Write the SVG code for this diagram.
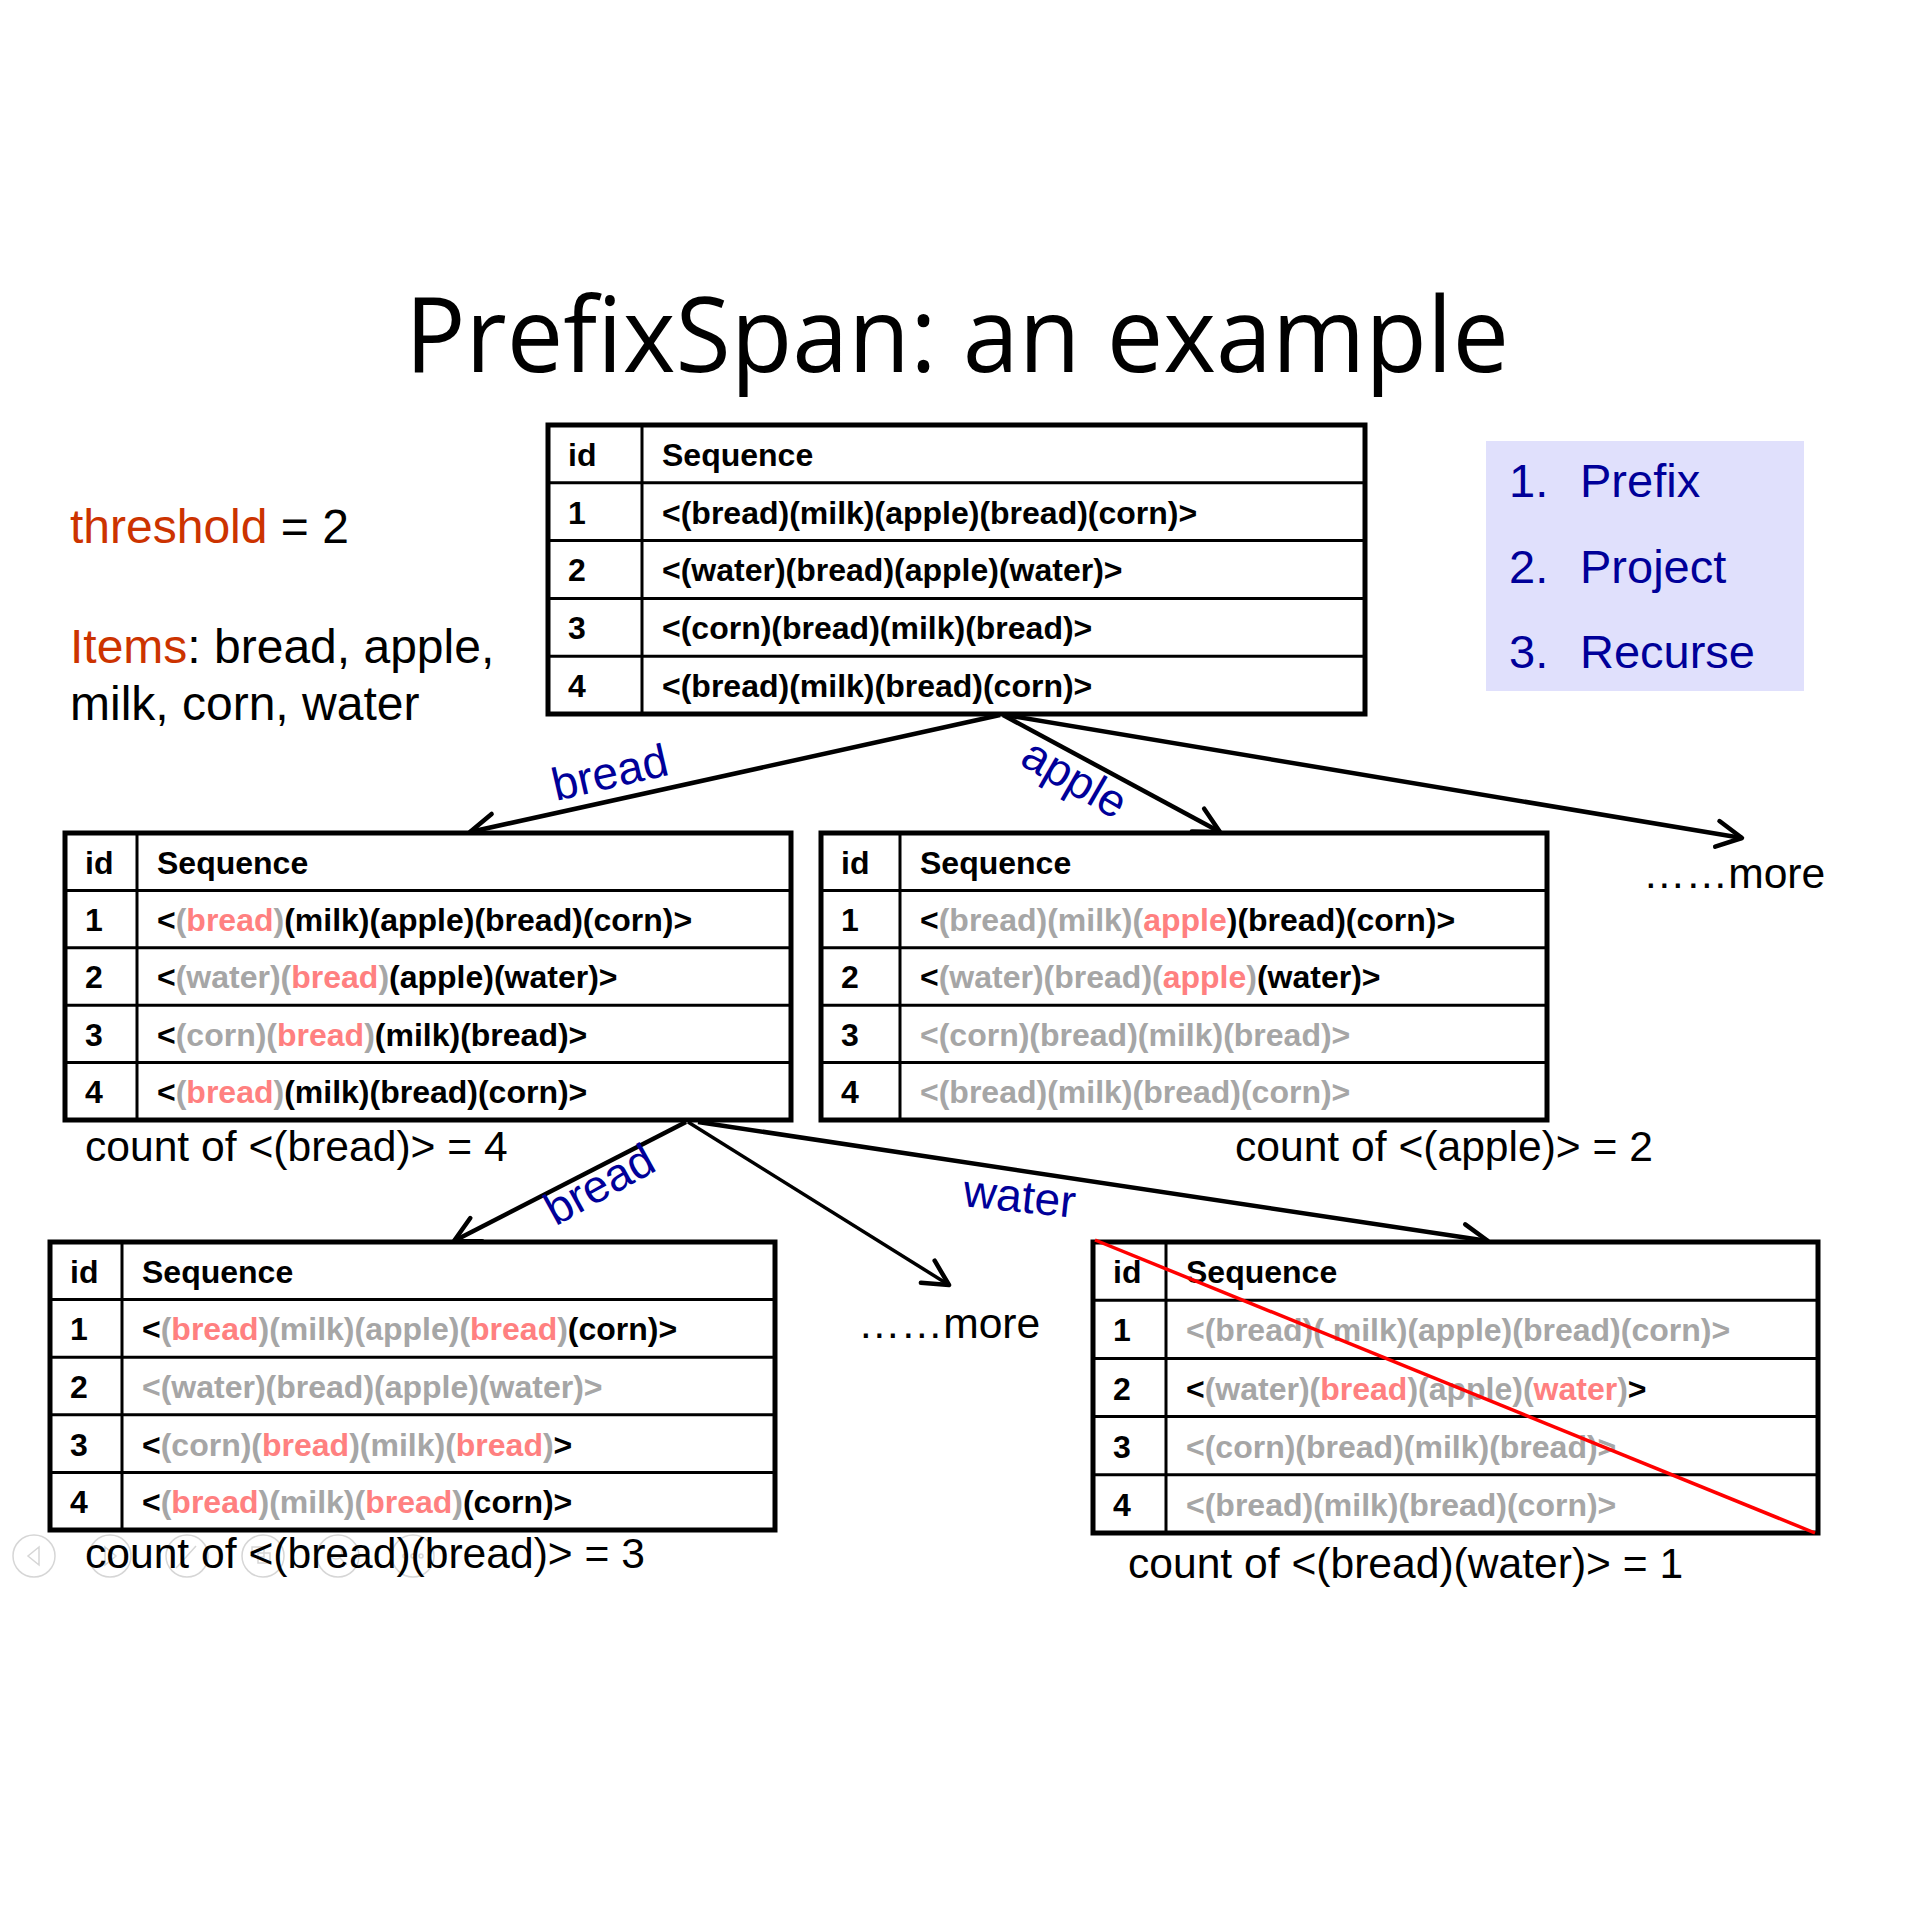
<svg xmlns="http://www.w3.org/2000/svg" width="1913" height="1913" viewBox="0 0 1913 1913">
  <defs>
    <style>
      .frame { fill: #fff; stroke: none; }
      .outer { fill: none; stroke: #000; stroke-width: 5; }
      .grid { stroke: #000; stroke-width: 3; }
      .cell { font-family: "Liberation Sans", Arial, sans-serif; font-size: 32px; font-weight: bold; fill: #000; }
      .g { fill: #A6A6A6; }
      .p { fill: #FF8080; }
      .plain { font-family: "Liberation Sans", Arial, sans-serif; fill: #000; }
      .count { font-size: 42.6px; }
      .note { font-size: 48px; }
      .hl { fill: #CC3300; }
      .lbl { font-family: "Liberation Sans", Arial, sans-serif; font-size: 46px; fill: #000099; }
      .step { font-family: "Liberation Sans", Arial, sans-serif; font-size: 47px; fill: #000099; }
      .conn { fill: none; stroke: #000; stroke-width: 4.5; marker-end: url(#arrow); }
      .ctl { fill: none; stroke: #D6D6D6; stroke-width: 1.5; }
    </style>
    <marker id="arrow" markerUnits="userSpaceOnUse" viewBox="-30 -16 34 32" refX="0" refY="0" markerWidth="34" markerHeight="32" orient="auto">
      <path d="M-25,-13 L0,0 L-25,13" fill="none" stroke="#000" stroke-width="4.5" stroke-linecap="round" stroke-linejoin="round"/>
    </marker>
  </defs>

  <rect width="1913" height="1913" fill="#fff"/>

  <!-- title -->
  <text x="405" y="372" font-family="'Open Sans', 'Noto Sans', sans-serif" font-size="104" textLength="1104" lengthAdjust="spacingAndGlyphs" fill="#000">PrefixSpan: an example</text>

  <!-- side notes -->
  <g id="notes" class="plain note">
    <text x="70" y="543"><tspan class="hl">threshold</tspan> = 2</text>
    <text x="70" y="663"><tspan class="hl">Items</tspan>: bread, apple,</text>
    <text x="70" y="720">milk, corn, water</text>
  </g>

  <!-- steps box -->
  <g id="steps">
    <rect x="1486" y="441" width="318" height="250" fill="#E0E0FC"/>
    <text class="step" x="1509" y="497">1.</text><text class="step" x="1580" y="497">Prefix</text>
    <text class="step" x="1509" y="583">2.</text><text class="step" x="1580" y="583">Project</text>
    <text class="step" x="1509" y="668">3.</text><text class="step" x="1580" y="668">Recurse</text>
  </g>

  <!-- connectors -->
  <g id="connectors">
    <path class="conn" d="M1000,715 L470,832"/>
    <path class="conn" d="M1003,715 L1220,832"/>
    <path class="conn" d="M1005,715 L1742,838"/>
    <path class="conn" d="M686,1122 L454,1241"/>
    <path class="conn" d="M688,1122 L949,1285" style="stroke-width:3.5"/>
    <path class="conn" d="M698,1122 L1488,1241"/>
    <text class="lbl" x="556" y="801" transform="rotate(-13 556 801)">bread</text>
    <text class="lbl" x="1067" y="792" text-anchor="middle" transform="rotate(30 1067 792)">apple</text>
    <text class="lbl" x="607" y="1198" text-anchor="middle" transform="rotate(-29 607 1198)">bread</text>
    <text class="lbl" x="962" y="1206" transform="rotate(6 962 1206)">water</text>
  </g>

  <!-- root database -->
  <g id="db-root">
    <rect class="frame" x="548" y="425" width="817" height="289"/>
    <line class="grid" x1="548" y1="482.8" x2="1365" y2="482.8"/>
    <line class="grid" x1="548" y1="540.6" x2="1365" y2="540.6"/>
    <line class="grid" x1="548" y1="598.4" x2="1365" y2="598.4"/>
    <line class="grid" x1="548" y1="656.2" x2="1365" y2="656.2"/>
    <line class="grid" x1="642" y1="425" x2="642" y2="714"/>
    <rect class="outer" x="548" y="425" width="817" height="289"/>
    <g class="cell">
      <text x="568" y="466">id</text><text x="662" y="466">Sequence</text>
      <text x="568" y="524">1</text><text x="662" y="524">&lt;(bread)(milk)(apple)(bread)(corn)&gt;</text>
      <text x="568" y="581">2</text><text x="662" y="581">&lt;(water)(bread)(apple)(water)&gt;</text>
      <text x="568" y="639">3</text><text x="662" y="639">&lt;(corn)(bread)(milk)(bread)&gt;</text>
      <text x="568" y="697">4</text><text x="662" y="697">&lt;(bread)(milk)(bread)(corn)&gt;</text>
    </g>
  </g>

  <!-- projection on <(bread)> -->
  <g id="db-bread">
    <rect class="frame" x="65" y="833" width="726" height="287"/>
    <line class="grid" x1="65" y1="890.4" x2="791" y2="890.4"/>
    <line class="grid" x1="65" y1="947.8" x2="791" y2="947.8"/>
    <line class="grid" x1="65" y1="1005.2" x2="791" y2="1005.2"/>
    <line class="grid" x1="65" y1="1062.6" x2="791" y2="1062.6"/>
    <line class="grid" x1="137" y1="833" x2="137" y2="1120"/>
    <rect class="outer" x="65" y="833" width="726" height="287"/>
    <g class="cell">
      <text x="85" y="874">id</text><text x="157" y="874">Sequence</text>
      <text x="85" y="931">1</text><text x="157" y="931">&lt;<tspan class="g">(</tspan><tspan class="p">bread</tspan><tspan class="g">)</tspan>(milk)(apple)(bread)(corn)&gt;</text>
      <text x="85" y="988">2</text><text x="157" y="988">&lt;<tspan class="g">(water)(</tspan><tspan class="p">bread</tspan><tspan class="g">)</tspan>(apple)(water)&gt;</text>
      <text x="85" y="1046">3</text><text x="157" y="1046">&lt;<tspan class="g">(corn)(</tspan><tspan class="p">bread</tspan><tspan class="g">)</tspan>(milk)(bread)&gt;</text>
      <text x="85" y="1103">4</text><text x="157" y="1103">&lt;<tspan class="g">(</tspan><tspan class="p">bread</tspan><tspan class="g">)</tspan>(milk)(bread)(corn)&gt;</text>
    </g>
    <text class="plain count" x="85" y="1161">count of &lt;(bread)&gt; = 4</text>
  </g>

  <!-- projection on <(apple)> -->
  <g id="db-apple">
    <rect class="frame" x="821" y="833" width="726" height="287"/>
    <line class="grid" x1="821" y1="890.4" x2="1547" y2="890.4"/>
    <line class="grid" x1="821" y1="947.8" x2="1547" y2="947.8"/>
    <line class="grid" x1="821" y1="1005.2" x2="1547" y2="1005.2"/>
    <line class="grid" x1="821" y1="1062.6" x2="1547" y2="1062.6"/>
    <line class="grid" x1="900" y1="833" x2="900" y2="1120"/>
    <rect class="outer" x="821" y="833" width="726" height="287"/>
    <g class="cell">
      <text x="841" y="874">id</text><text x="920" y="874">Sequence</text>
      <text x="841" y="931">1</text><text x="920" y="931">&lt;<tspan class="g">(bread)(milk)(</tspan><tspan class="p">apple</tspan>)(bread)(corn)&gt;</text>
      <text x="841" y="988">2</text><text x="920" y="988">&lt;<tspan class="g">(water)(bread)(</tspan><tspan class="p">apple</tspan><tspan class="g">)</tspan>(water)&gt;</text>
      <text x="841" y="1046">3</text><text x="920" y="1046" class="g">&lt;(corn)(bread)(milk)(bread)&gt;</text>
      <text x="841" y="1103">4</text><text x="920" y="1103" class="g">&lt;(bread)(milk)(bread)(corn)&gt;</text>
    </g>
    <text class="plain count" x="1235" y="1161">count of &lt;(apple)&gt; = 2</text>
  </g>

  <text id="more-root" class="plain count" x="1643" y="888">……more</text>

  <!-- projection on <(bread)(bread)> -->
  <g id="db-bread-bread">
    <rect class="frame" x="50" y="1242" width="725" height="288"/>
    <line class="grid" x1="50" y1="1299.6" x2="775" y2="1299.6"/>
    <line class="grid" x1="50" y1="1357.2" x2="775" y2="1357.2"/>
    <line class="grid" x1="50" y1="1414.8" x2="775" y2="1414.8"/>
    <line class="grid" x1="50" y1="1472.4" x2="775" y2="1472.4"/>
    <line class="grid" x1="122" y1="1242" x2="122" y2="1530"/>
    <rect class="outer" x="50" y="1242" width="725" height="288"/>
    <g class="cell">
      <text x="70" y="1283">id</text><text x="142" y="1283">Sequence</text>
      <text x="70" y="1340">1</text><text x="142" y="1340">&lt;<tspan class="g">(</tspan><tspan class="p">bread</tspan><tspan class="g">)(milk)(apple)(</tspan><tspan class="p">bread</tspan><tspan class="g">)</tspan>(corn)&gt;</text>
      <text x="70" y="1398">2</text><text x="142" y="1398" class="g">&lt;(water)(bread)(apple)(water)&gt;</text>
      <text x="70" y="1456">3</text><text x="142" y="1456">&lt;<tspan class="g">(corn)(</tspan><tspan class="p">bread</tspan><tspan class="g">)(milk)(</tspan><tspan class="p">bread</tspan><tspan class="g">)</tspan>&gt;</text>
      <text x="70" y="1513">4</text><text x="142" y="1513">&lt;<tspan class="g">(</tspan><tspan class="p">bread</tspan><tspan class="g">)(milk)(</tspan><tspan class="p">bread</tspan><tspan class="g">)</tspan>(corn)&gt;</text>
    </g>
  </g>

  <!-- presenter controls, faint -->
  <g id="slide-controls" class="ctl">
    <circle cx="34" cy="1556" r="21"/>
    <path d="M39,1547 L28,1556 L39,1565 Z"/>
    <circle cx="110" cy="1556" r="21"/>
    <path d="M105,1547 L116,1556 L105,1565 Z"/>
    <circle cx="187" cy="1556" r="21"/>
    <path d="M178,1566 L196,1546 M176,1568 L180,1564"/>
    <circle cx="263" cy="1556" r="21"/>
    <rect x="252" y="1547" width="12" height="10"/><rect x="258" y="1553" width="12" height="10"/>
    <circle cx="338" cy="1556" r="21"/>
    <circle cx="336" cy="1553" r="6"/><path d="M340,1558 L347,1565"/>
    <circle cx="413" cy="1556" r="21"/>
    <circle cx="405" cy="1556" r="2"/><circle cx="413" cy="1556" r="2"/><circle cx="421" cy="1556" r="2"/>
  </g>
  <text class="plain count" x="85" y="1568">count of &lt;(bread)(bread)&gt; = 3</text>

  <text id="more-bread" class="plain count" x="858" y="1338">……more</text>

  <!-- projection on <(bread)(water)>, pruned -->
  <g id="db-bread-water">
    <rect class="frame" x="1093" y="1242" width="725" height="291"/>
    <line class="grid" x1="1093" y1="1300.2" x2="1818" y2="1300.2"/>
    <line class="grid" x1="1093" y1="1358.4" x2="1818" y2="1358.4"/>
    <line class="grid" x1="1093" y1="1416.6" x2="1818" y2="1416.6"/>
    <line class="grid" x1="1093" y1="1474.8" x2="1818" y2="1474.8"/>
    <line class="grid" x1="1166" y1="1242" x2="1166" y2="1533"/>
    <rect class="outer" x="1093" y="1242" width="725" height="291"/>
    <g class="cell">
      <text x="1113" y="1283">id</text><text x="1186" y="1283">Sequence</text>
      <text x="1113" y="1341">1</text><text x="1186" y="1341" class="g">&lt;(bread)( milk)(apple)(bread)(corn)&gt;</text>
      <text x="1113" y="1400">2</text><text x="1186" y="1400">&lt;<tspan class="g">(water)(</tspan><tspan class="p">bread</tspan><tspan class="g">)(apple)(</tspan><tspan class="p">water</tspan><tspan class="g">)</tspan>&gt;</text>
      <text x="1113" y="1458">3</text><text x="1186" y="1458" class="g">&lt;(corn)(bread)(milk)(bread)&gt;</text>
      <text x="1113" y="1516">4</text><text x="1186" y="1516" class="g">&lt;(bread)(milk)(bread)(corn)&gt;</text>
    </g>
    <line x1="1095" y1="1240" x2="1815" y2="1533" stroke="#FF0000" stroke-width="3.5"/>
    <text class="plain count" x="1128" y="1578">count of &lt;(bread)(water)&gt; = 1</text>
  </g>
</svg>
